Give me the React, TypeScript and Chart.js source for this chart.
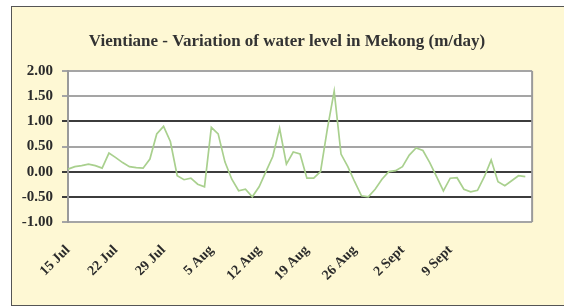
import React, { useEffect, useRef } from "react";
import { Chart, registerables } from "chart.js";

Chart.register(...registerables);

// Daily categories from 15 Jul to 21 Sept
const categories: string[] = [
  "15 Jul","16 Jul","17 Jul","18 Jul","19 Jul","20 Jul","21 Jul","22 Jul","23 Jul","24 Jul",
  "25 Jul","26 Jul","27 Jul","28 Jul","29 Jul","30 Jul","31 Jul","1 Aug","2 Aug","3 Aug",
  "4 Aug","5 Aug","6 Aug","7 Aug","8 Aug","9 Aug","10 Aug","11 Aug","12 Aug","13 Aug",
  "14 Aug","15 Aug","16 Aug","17 Aug","18 Aug","19 Aug","20 Aug","21 Aug","22 Aug","23 Aug",
  "24 Aug","25 Aug","26 Aug","27 Aug","28 Aug","29 Aug","30 Aug","31 Aug","1 Sept","2 Sept",
  "3 Sept","4 Sept","5 Sept","6 Sept","7 Sept","8 Sept","9 Sept","10 Sept","11 Sept","12 Sept",
  "13 Sept","14 Sept","15 Sept","16 Sept","17 Sept","18 Sept","19 Sept","20 Sept","21 Sept",
];

// Tick labels shown on the x axis
const xTickLabels: string[] = [
  "15 Jul", "22 Jul", "29 Jul", "5 Aug", "12 Aug", "19 Aug", "26 Aug", "2 Sept", "9 Sept",
];

const levelChange: number[] = [
  0.05, 0.10, 0.12, 0.15, 0.12, 0.07, 0.37, 0.28, 0.18, 0.10,
  0.08, 0.07, 0.25, 0.75, 0.90, 0.60, -0.08, -0.16, -0.13, -0.25,
  -0.30, 0.88, 0.75, 0.19, -0.15, -0.38, -0.35, -0.50, -0.30, 0.00,
  0.30, 0.86, 0.15, 0.39, 0.35, -0.13, -0.13, 0.00, 0.85, 1.60,
  0.35, 0.10, -0.20, -0.48, -0.50, -0.35, -0.15, 0.00, 0.02, 0.10,
  0.33, 0.47, 0.42, 0.18, -0.10, -0.38, -0.13, -0.12, -0.35, -0.40,
  -0.37, -0.10, 0.23, -0.20, -0.28, -0.18, -0.08, -0.10,
];

const yTicks: number[] = [-1.0, -0.5, 0.0, 0.5, 1.0, 1.5, 2.0];
const TITLE = "Vientiane - Variation of water level in Mekong (m/day)";

export default function App() {
  const ref = useRef<HTMLCanvasElement | null>(null);

  useEffect(() => {
    if (!ref.current) return;
    const darkLines = new Set([1.0, 0.0, -0.5]);
    const chart = new Chart(ref.current, {
      type: "line",
      data: {
        labels: categories,
        datasets: [
          {
            data: levelChange,
            borderColor: "#a9d08e",
            borderWidth: 1.7,
            pointRadius: 0,
            tension: 0,
            fill: false,
          },
        ],
      },
      options: {
        animation: false,
        responsive: false,
        maintainAspectRatio: false,
        layout: { padding: { left: 0, top: 71, right: 30, bottom: 0 } },
        plugins: { legend: { display: false }, tooltip: { enabled: false }, title: { display: false } },
        scales: {
          x: {
            type: "category",
            offset: false,
            grid: { display: false, drawTicks: false },
            border: { display: false },
            afterFit: (s: any) => { s.height = 85; },
            ticks: {
              autoSkip: false,
              maxRotation: 45,
              minRotation: 45,
              padding: 20,
              color: "#2b2b2b",
              font: { family: "'Liberation Serif', 'Times New Roman', serif", size: 14, weight: "bold" },
              callback: (_v: any, i: number) => (xTickLabels.includes(categories[i]) ? categories[i] : ""),
            },
          },
          y: {
            min: -1,
            max: 2,
            afterFit: (s: any) => { s.width = 68; },
            afterBuildTicks: (s: any) => { s.ticks = yTicks.map((v) => ({ value: v })); },
            border: { display: true, color: "#9a9a9a", width: 2 },
            grid: {
              drawTicks: true,
              tickLength: 6,
              lineWidth: 2,
              color: (ctx: any) => {
                const v = ctx.tick ? ctx.tick.value : 0;
                return darkLines.has(v) ? "#3c3c3c" : "#a5a5a5";
              },
            },
            ticks: {
              padding: 9,
              color: "#2b2b2b",
              font: { family: "'Liberation Serif', 'Times New Roman', serif", size: 15, weight: "bold" },
              callback: (v: any) => Number(v).toFixed(2),
            },
          },
        },
      },
      plugins: [
        {
          id: "bg",
          beforeDraw: (c: any) => {
            const { ctx, chartArea: a } = c;
            ctx.save();
            ctx.fillStyle = "#ffffff";
            ctx.fillRect(a.left, a.top, a.right - a.left, a.bottom - a.top);
            ctx.restore();
          },
          afterDraw: (c: any) => {
            const { ctx, chartArea: a } = c;
            ctx.save();
            ctx.strokeStyle = "#9a9a9a";
            ctx.lineWidth = 2;
            ctx.beginPath();
            ctx.moveTo(a.right, a.top);
            ctx.lineTo(a.right, a.bottom);
            ctx.stroke();
            ctx.fillStyle = "#333333";
            ctx.font = "bold 17px 'Liberation Serif', 'Times New Roman', serif";
            ctx.textAlign = "center";
            ctx.textBaseline = "middle";
            ctx.fillText(TITLE, 287, 42);
            ctx.restore();
          },
        },
      ],
    } as any);
    return () => chart.destroy();
  }, []);

  return (
    <div style={{ position: "fixed", left: 0, top: 0, width: 564, height: 307, background: "#ffffff", overflow: "hidden" }}>
      <div
        style={{
          position: "absolute",
          left: 11,
          top: 6,
          width: 560,
          height: 298,
          background: "#fef8d4",
          border: "1px solid #555555",
        }}
      />
      <canvas ref={ref} width={564} height={307} style={{ position: "absolute", left: 0, top: 0, width: 564, height: 307 }} />
    </div>
  );
}
